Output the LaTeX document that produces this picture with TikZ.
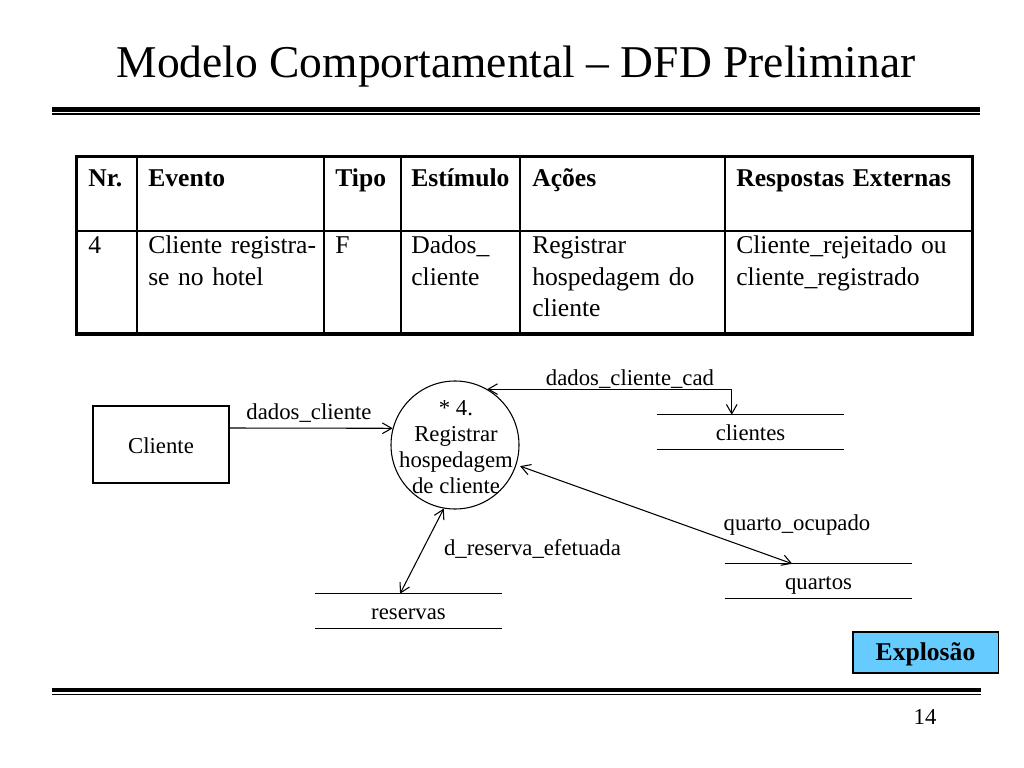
\documentclass[tikz,border=0pt]{standalone}
\usepackage{fontspec}
\setmainfont{Liberation Serif}
\usetikzlibrary{arrows.meta,calc}
\definecolor{explblue}{RGB}{102,204,255}
\begin{document}
\begin{tikzpicture}[x=0.703125pt,y=-0.703125pt,
  cell/.style={anchor=base west, inner sep=0pt, text width=160pt, align=left, font=\fontsize{18}{21.8}\selectfont},
  head/.style={cell, font=\fontsize{18}{21.8}\selectfont\bfseries},
  lbl/.style={anchor=base, inner sep=0pt, font=\fontsize{16}{19}\selectfont},
  flowline/.style={line width=0.75pt},
  tip/.style={flowline, -{Straight Barb[length=6.5pt,width=7.5pt]}},
  bitip/.style={flowline, {Straight Barb[length=6.5pt,width=7.5pt]}-{Straight Barb[length=6.5pt,width=7.5pt]}},
  store/.style={minimum width=131.5pt, minimum height=23.9pt, inner sep=0pt, text height=12pt, text depth=0pt, font=\fontsize{16}{19}\selectfont},
  thinline/.style={line width=0.75pt},
  tablerule/.style={line width=1pt}
]
\fill[white] (0,0) rectangle (1024,768);
\useasboundingbox (0,0) rectangle (1024,768);

% title and rules
\node[anchor=base, inner sep=0pt, font=\fontsize{32}{38}\selectfont] (title) at (516,78) {Modelo Comportamental – DFD Preliminar};
\draw[line width=3.5pt] (52,109.2) -- (980,109.2);
\draw[line width=1pt] (52,114.2) -- (980,114.2);
\draw[line width=3pt] (52,690.3) -- (981,690.3);
\draw[line width=1pt] (52,694.6) -- (981,694.6);

% table
\draw[tablerule] (76,231) -- (973,231);
\foreach \x in {137,324,401,520,725} \draw[tablerule] (\x,156) -- (\x,334);
\draw[line width=2.25pt] (76.7,156.3) rectangle (972.7,334);

\node[head] (h1) at (88,187) {Nr.};
\node[head] (h2) at (148,187) {Evento};
\node[head] (h3) at (335,187) {Tipo};
\node[head] (h4) at (411,187) {Estímulo};
\node[head] (h5) at (532,187) {Ações};
\node[head] (h6) at (736,187) {Respostas Externas};

\node[cell] (c1) at (88,254) {4};
\node[cell] (c2) at (148,254) {Cliente registra-\\se no hotel};
\node[cell] (c3) at (335,254) {F};
\node[cell] (c4) at (411,254) {Dados\_\\cliente};
\node[cell] (c5) at (532,254) {Registrar\\hospedagem do\\cliente};
\node[cell] (c6) at (736,254) {Cliente\_rejeitado ou\\cliente\_registrado};

% DFD
\node[draw, thinline, minimum width=95.6pt, minimum height=54.1pt, inner sep=0pt, text height=12pt, text depth=0pt, font=\fontsize{16}{19}\selectfont] (cli) at (161,444.5) {Cliente};
\node[circle, draw, thinline, minimum size=90pt, inner sep=0pt] (p) at (455,445) {};
\node[align=center, inner sep=0pt, font=\fontsize{16}{18.3}\selectfont] (ptext) at (456,447) {* 4.\\Registrar\\hospedagem\\de cliente};

\node[store] (cl) at (750.5,432) {clientes};
\node[store] (qu) at (818.5,581) {quartos};
\node[store] (re) at (408.5,611) {reservas};
\foreach \s in {cl,qu,re}
  \draw[thinline] (\s.north west) -- (\s.north east) (\s.south west) -- (\s.south east);

\draw[tip] ([yshift=11.6pt]cli.east) -- (p.165);
\draw[bitip] (p.60) -| ($(cl.north west)!0.4!(cl.north east)$);
\draw[bitip] ($(p.center)!1.06!(p.-18)$) -- ($(qu.north west)!0.36!(qu.north east)$);
\draw[bitip] ($(re.north west)!0.455!(re.north east)$) -- (p.-100);

\node[lbl] (l1) at (309,419) {dados\_cliente};
\node[lbl] (l2) at (630,385) {dados\_cliente\_cad};
\node[lbl] (l3) at (797,530.5) {quarto\_ocupado};
\node[lbl] (l4) at (532.5,555.5) {d\_reserva\_efetuada};

% explosion button and page number
\node[draw, fill=explblue, thinline, minimum width=102pt, minimum height=28.8pt, inner sep=0pt, text height=10.6pt, text depth=0pt, font=\fontsize{18}{21}\selectfont\bfseries] (ex) at (925.5,652.5) {Explosão};
\node[anchor=base, inner sep=0pt, font=\fontsize{16}{19}\selectfont] (pg) at (925,724) {14};
\end{tikzpicture}
\end{document}
